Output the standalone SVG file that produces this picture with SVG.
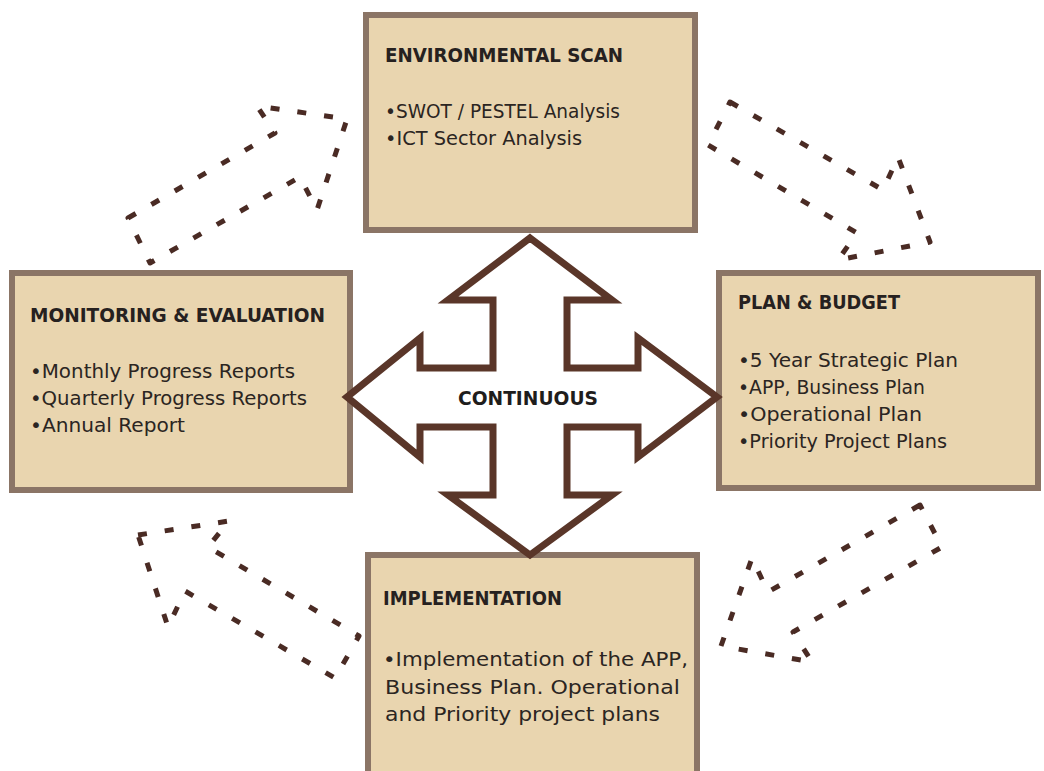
<svg xmlns="http://www.w3.org/2000/svg" width="1044" height="771" viewBox="0 0 1044 771">
<style>
.box{fill:#e9d5af;stroke:#8b7566;stroke-width:6}
.ttl{font-family:"DejaVu Sans","Liberation Sans",sans-serif;font-weight:bold;font-size:20px;fill:#262120}
.txt{font-family:"DejaVu Sans","Liberation Sans",sans-serif;font-size:19px;fill:#2b2522}
.dash{fill:none;stroke:#4a2b24;stroke-width:5;stroke-dasharray:9 18;stroke-linejoin:round}
.cross{fill:#ffffff;stroke:#5a3629;stroke-width:7;stroke-linejoin:miter}
.ctr{font-family:"DejaVu Sans","Liberation Sans",sans-serif;font-weight:bold;font-size:20px;fill:#1f1d1c}
</style>
<rect x="0" y="0" width="1044" height="771" fill="#ffffff"/>
<g id="connectors">
  <polygon class="dash" points="128,218 275,133 257,106 347,119 317,210 300,177 150,263"/>
  <polygon class="dash" points="730,102 883,190 898,157 930,242 838,260 857,233 708,145"/>
  <polygon class="dash" points="920,505 768,592 752,558 721,646 812,662 793,632 942,547"/>
  <polygon class="dash" points="138,535 229,521 208,547 359,636 335,678 185,591 168,627"/>
</g>
<g id="node-environmental-scan">
  <rect class="box" x="366" y="15" width="329" height="215"/>
  <text class="ttl" x="385" y="62" textLength="238" lengthAdjust="spacingAndGlyphs">ENVIRONMENTAL SCAN</text>
  <text class="txt" x="385" y="118" textLength="235" lengthAdjust="spacingAndGlyphs">•SWOT / PESTEL Analysis</text>
  <text class="txt" x="385" y="145" textLength="197" lengthAdjust="spacingAndGlyphs">•ICT Sector Analysis</text>
</g>
<g id="node-monitoring-evaluation">
  <rect class="box" x="12" y="273" width="338" height="217"/>
  <text class="ttl" x="30" y="322" textLength="295" lengthAdjust="spacingAndGlyphs">MONITORING &amp; EVALUATION</text>
  <text class="txt" x="30" y="378" textLength="265" lengthAdjust="spacingAndGlyphs">•Monthly Progress Reports</text>
  <text class="txt" x="30" y="405" textLength="277" lengthAdjust="spacingAndGlyphs">•Quarterly Progress Reports</text>
  <text class="txt" x="30" y="432" textLength="155" lengthAdjust="spacingAndGlyphs">•Annual Report</text>
</g>
<g id="node-plan-budget">
  <rect class="box" x="719" y="273" width="319" height="215"/>
  <text class="ttl" x="738" y="309" textLength="162" lengthAdjust="spacingAndGlyphs">PLAN &amp; BUDGET</text>
  <text class="txt" x="738" y="367" textLength="220" lengthAdjust="spacingAndGlyphs">•5 Year Strategic Plan</text>
  <text class="txt" x="738" y="394" textLength="187" lengthAdjust="spacingAndGlyphs">•APP, Business Plan</text>
  <text class="txt" x="738" y="421" textLength="184" lengthAdjust="spacingAndGlyphs">•Operational Plan</text>
  <text class="txt" x="738" y="448" textLength="209" lengthAdjust="spacingAndGlyphs">•Priority Project Plans</text>
</g>
<g id="node-implementation">
  <rect class="box" x="368" y="555" width="329" height="230"/>
  <text class="ttl" x="383" y="605" textLength="179" lengthAdjust="spacingAndGlyphs">IMPLEMENTATION</text>
  <text class="txt" x="383" y="666" textLength="305" lengthAdjust="spacingAndGlyphs">•Implementation of the APP,</text>
  <text class="txt" x="385" y="694" textLength="295" lengthAdjust="spacingAndGlyphs">Business Plan. Operational</text>
  <text class="txt" x="385" y="721" textLength="275" lengthAdjust="spacingAndGlyphs">and Priority project plans</text>
</g>
<g id="node-continuous">
  <polygon class="cross" points="530,238 612,300 567,300 567,368 638,368 638,338 717,397 638,457 638,427 567,427 567,495 612,495 530,555 448,495 493,495 493,427 420,427 420,457 347,397 420,338 420,368 493,368 493,300 448,300"/>
  <text class="ctr" x="458" y="405" textLength="140" lengthAdjust="spacingAndGlyphs">CONTINUOUS</text>
</g>
</svg>
